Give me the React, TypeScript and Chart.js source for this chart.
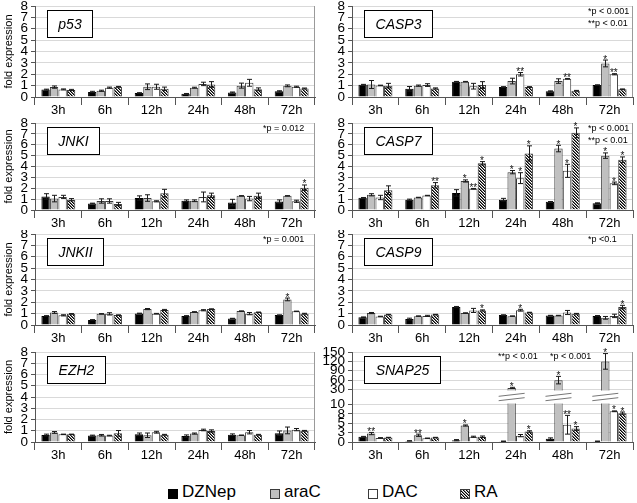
import React, { useEffect, useRef } from "react";
import { Chart, registerables } from "chart.js";
Chart.register(...registerables);

const FONT = "'Liberation Sans', Arial, Helvetica, sans-serif";

// ---------- data ----------
const timepoints = ["3h", "6h", "12h", "24h", "48h", "72h"];
const seriesNames = ["DZNep", "araC", "DAC", "RA"];
const linearTicks = [0, 1, 2, 3, 4, 5, 6, 7, 8];
const snapTicks = [0, 2.5, 5, 7.5, 10, 30, 60, 90, 120, 150];
const noSig = [["", "", "", "", "", ""], ["", "", "", "", "", ""], ["", "", "", "", "", ""], ["", "", "", "", "", ""]];

// rows: DZNep, araC, DAC, RA ; columns: timepoints
const p53Mean = [
  [0.65, 0.45, 0.35, 0.28, 0.4, 0.5],
  [0.87, 0.55, 0.9, 0.82, 1.0, 0.98],
  [0.67, 0.82, 0.9, 1.15, 1.25, 0.9],
  [0.62, 0.9, 0.72, 1.1, 0.68, 0.75],
];
const p53Err = [
  [0.04, 0.05, 0.03, 0.03, 0.04, 0.05],
  [0.1, 0.05, 0.25, 0.04, 0.22, 0.08],
  [0.04, 0.05, 0.22, 0.15, 0.3, 0.05],
  [0.05, 0.03, 0.15, 0.25, 0.12, 0.04],
];

const casp3Mean = [
  [1.08, 0.72, 1.35, 0.88, 0.5, 1.05],
  [1.1, 1.0, 1.35, 1.4, 1.4, 2.95],
  [1.02, 1.05, 0.95, 2.0, 1.6, 2.0],
  [1.0, 0.75, 1.05, 0.88, 0.55, 0.68],
];
const casp3Err = [
  [0.03, 0.2, 0.02, 0.03, 0.04, 0.02],
  [0.35, 0.05, 0.02, 0.25, 0.2, 0.3],
  [0.02, 0.12, 0.25, 0.15, 0.03, 0.05],
  [0.2, 0.05, 0.3, 0.03, 0.03, 0.03],
];
const casp3Sig = [
  ["", "", "", "", "", ""],
  ["", "", "", "", "", "*"],
  ["", "", "", "**", "**", "**"],
  ["", "", "", "", "", ""],
];

const jnk1Mean = [
  [1.25, 0.6, 1.1, 0.85, 0.68, 0.78],
  [1.05, 0.83, 1.1, 0.85, 1.3, 1.3],
  [1.2, 0.83, 0.8, 1.2, 1.05, 0.8],
  [0.95, 0.55, 1.55, 1.35, 1.3, 2.05],
];
const jnk1Err = [
  [0.25, 0.03, 0.2, 0.08, 0.3, 0.15],
  [0.3, 0.2, 0.3, 0.08, 0.02, 0.02],
  [0.15, 0.2, 0.05, 0.45, 0.2, 0.1],
  [0.1, 0.15, 0.35, 0.2, 0.25, 0.25],
];
const jnk1Sig = [
  ["", "", "", "", "", ""],
  ["", "", "", "", "", ""],
  ["", "", "", "", "", ""],
  ["", "", "", "", "", "*"],
];

const casp7Mean = [
  [1.12, 0.95, 1.57, 0.95, 0.75, 0.63],
  [1.4, 1.15, 2.67, 3.48, 5.65, 5.0],
  [1.15, 1.33, 1.95, 2.93, 3.6, 2.45],
  [1.82, 2.27, 4.3, 5.2, 7.1, 4.63],
];
const casp7Err = [
  [0.03, 0.05, 0.3, 0.12, 0.03, 0.03],
  [0.1, 0.02, 0.1, 0.15, 0.3, 0.25],
  [0.2, 0.02, 0.03, 0.5, 0.6, 0.12],
  [0.4, 0.25, 0.15, 0.7, 0.45, 0.25],
];
const casp7Sig = [
  ["", "", "", "", "", ""],
  ["", "", "*", "*", "*", "*"],
  ["", "", "**", "*", "*", "*"],
  ["", "**", "*", "*", "*", "*"],
];

const jnk2Mean = [
  [0.8, 0.45, 1.02, 0.8, 0.57, 0.87],
  [1.1, 0.98, 1.4, 1.15, 1.22, 2.25],
  [0.85, 0.98, 1.0, 1.3, 1.0, 1.2],
  [0.98, 0.87, 1.32, 1.4, 1.12, 1.0],
];
const jnk2Err = [
  [0.02, 0.02, 0.02, 0.02, 0.02, 0.02],
  [0.08, 0.02, 0.05, 0.02, 0.02, 0.12],
  [0.05, 0.1, 0.02, 0.05, 0.1, 0.02],
  [0.02, 0.02, 0.05, 0.02, 0.02, 0.03],
];
const jnk2Sig = [
  ["", "", "", "", "", ""],
  ["", "", "", "", "", "*"],
  ["", "", "", "", "", ""],
  ["", "", "", "", "", ""],
];

const casp9Mean = [
  [0.68, 0.52, 1.58, 0.87, 0.83, 0.8],
  [1.05, 0.78, 1.05, 0.78, 0.83, 0.63],
  [0.75, 0.8, 1.28, 1.3, 1.1, 0.8],
  [0.92, 0.92, 1.28, 1.1, 1.0, 1.58],
];
const casp9Err = [
  [0.03, 0.08, 0.05, 0.03, 0.02, 0.03],
  [0.05, 0.02, 0.02, 0.02, 0.02, 0.12],
  [0.02, 0.05, 0.18, 0.08, 0.18, 0.15],
  [0.02, 0.02, 0.05, 0.02, 0.02, 0.15],
];
const casp9Sig = [
  ["", "", "", "", "", ""],
  ["", "", "", "", "", ""],
  ["", "", "", "*", "", ""],
  ["", "", "*", "", "", "*"],
];

const ezh2Mean = [
  [0.62, 0.57, 0.68, 0.53, 0.65, 0.78],
  [0.85, 0.6, 0.6, 0.75, 0.6, 1.03],
  [0.68, 0.57, 0.87, 1.07, 0.87, 1.1],
  [0.68, 0.77, 0.65, 0.98, 0.65, 1.0],
];
const ezh2Err = [
  [0.08, 0.04, 0.12, 0.1, 0.07, 0.2],
  [0.08, 0.07, 0.2, 0.05, 0.02, 0.3],
  [0.02, 0.03, 0.08, 0.07, 0.15, 0.1],
  [0.02, 0.25, 0.03, 0.1, 0.03, 0.03],
];

const snap25Mean = [
  [1.4, 0.3, 0.5, 0.2, 0.9, 0.2],
  [2.25, 1.8, 4.4, 35, 60, 120],
  [1.1, 1.0, 1.4, 1.7, 4.6, 8.2],
  [1.2, 1.2, 1.4, 2.8, 3.6, 7.7],
];
const snap25Err = [
  [0.1, 0.05, 0.15, 0.05, 0.2, 0.05],
  [0.3, 0.3, 0.15, 2, 12, 25],
  [0.05, 0.05, 0.15, 0.3, 2.5, 0.1],
  [0.05, 0.05, 0.2, 0.2, 0.5, 0.3],
];
const snap25Sig = [
  ["", "", "", "", "", ""],
  ["**", "**", "*", "*", "*", "*"],
  ["", "", "", "", "**", "*"],
  ["", "", "", "*", "*", "*"],
];

// ---------- scale helpers ----------
const identity = (v: number) => v;
// broken axis: 0..10 linear, gap, 30..150 compressed
const brokenTf = (v: number) =>
  v <= 10 ? v : v <= 30 ? 10 + ((v - 10) * 4) / 20 : 14 + ((v - 30) * 10) / 120;

const panels = [
  { gene: "p53", mean: p53Mean, err: p53Err, sig: noSig, notes: [] as string[], col: 0, row: 0 },
  { gene: "CASP3", mean: casp3Mean, err: casp3Err, sig: casp3Sig, notes: ["*p < 0.001", "**p < 0.01"], col: 1, row: 0 },
  { gene: "JNKI", mean: jnk1Mean, err: jnk1Err, sig: jnk1Sig, notes: ["*p = 0.012"], col: 0, row: 1 },
  { gene: "CASP7", mean: casp7Mean, err: casp7Err, sig: casp7Sig, notes: ["*p < 0.001", "**p < 0.01"], col: 1, row: 1 },
  { gene: "JNKII", mean: jnk2Mean, err: jnk2Err, sig: jnk2Sig, notes: ["*p = 0.001"], col: 0, row: 2 },
  { gene: "CASP9", mean: casp9Mean, err: casp9Err, sig: casp9Sig, notes: ["*p <0.1"], col: 1, row: 2 },
  { gene: "EZH2", mean: ezh2Mean, err: ezh2Err, sig: noSig, notes: [], col: 0, row: 3 },
  { gene: "SNAP25", mean: snap25Mean, err: snap25Err, sig: snap25Sig, notes: ["**p < 0.01", "*p < 0.001"], col: 1, row: 3, broken: true },
];

// ---------- layout ----------
const rowsLayout = [
  { y: 0, h: 118, top: 6, bottom: 97 },
  { y: 118, h: 112, top: 123, bottom: 210 },
  { y: 230, h: 117, top: 234, bottom: 325 },
  { y: 347, h: 123, top: 352, bottom: 442 },
];
const colsLayout = [
  { x: 0, w: 318, left: 35, right: 315, noteOff: 52 },
  { x: 318, w: 319, left: 352, right: 633, noteOff: 45 },
];
const legendSquareX = [168, 270, 368, 460];

const fills = ["#000000", "#c0c0c0", "#ffffff"];
const borders = ["#000000", "#3a3a3a", "#3a3a3a", "#3a3a3a"];

function makeHatch(ctx: CanvasRenderingContext2D) {
  const c = document.createElement("canvas");
  c.width = 3;
  c.height = 3;
  const g = c.getContext("2d")!;
  g.fillStyle = "#ffffff";
  g.fillRect(0, 0, 3, 3);
  for (let i = 0; i < 3; i++) {
    g.fillStyle = "#000000";
    g.fillRect(i, i, 1, 1);
    g.fillStyle = "#6e6e6e";
    g.fillRect((i + 1) % 3, i, 1, 1);
  }
  return ctx.createPattern(c, "repeat")!;
}

const overlayPlugin = {
  id: "overlay",
  afterDatasetsDraw(chart: any, _args: any, opts: any) {
    const p = opts.panel;
    const tf = p.broken ? brokenTf : identity;
    const ctx: CanvasRenderingContext2D = chart.ctx;
    const ys = chart.scales.y;
    const area = chart.chartArea;
    ctx.save();
    // right border of the plot area
    ctx.strokeStyle = "#9a9a9a";
    ctx.lineWidth = 1;
    ctx.beginPath();
    ctx.moveTo(Math.round(area.right) - 0.5, area.top);
    ctx.lineTo(Math.round(area.right) - 0.5, area.bottom);
    ctx.stroke();
    // axis breaks
    if (p.broken) {
      p.mean.forEach((row: number[], i: number) => {
        const meta = chart.getDatasetMeta(i);
        row.forEach((v: number, j: number) => {
          if (v <= 30) return;
          const el = meta.data[j];
          const x = el.x;
          const yHi = ys.getPixelForValue(tf(30));
          const yLo = ys.getPixelForValue(tf(10));
          ctx.fillStyle = "#fff";
          ctx.fillRect(x - el.width / 2 - 1, yHi + 1, el.width + 2, yLo - yHi - 2);
          const mid = (yHi + yLo) / 2;
          ctx.strokeStyle = "#777";
          ctx.lineWidth = 1;
          [-2.2, 2.2].forEach((k) => {
            ctx.beginPath();
            ctx.moveTo(x - 13, mid + k + 1.5);
            ctx.lineTo(x + 13, mid + k - 1.5);
            ctx.stroke();
          });
        });
      });
    }
    // error bars + stars
    p.mean.forEach((row: number[], i: number) => {
      const meta = chart.getDatasetMeta(i);
      row.forEach((v: number, j: number) => {
        const e = p.err[i][j];
        const el = meta.data[j];
        const x = Math.round(el.x) + 0.5;
        const yTop = ys.getPixelForValue(tf(v + e));
        const yBot = ys.getPixelForValue(tf(Math.max(0, v - e)));
        if (e > 0) {
          ctx.strokeStyle = "#1a1a1a";
          ctx.lineWidth = 1;
          ctx.beginPath();
          ctx.moveTo(x, yTop);
          ctx.lineTo(x, yBot);
          ctx.moveTo(x - 2.5, yTop);
          ctx.lineTo(x + 2.5, yTop);
          ctx.moveTo(x - 2.5, yBot);
          ctx.lineTo(x + 2.5, yBot);
          ctx.stroke();
        }
        const s = p.sig[i][j];
        if (s) {
          ctx.fillStyle = "#111";
          ctx.font = `10px ${FONT}`;
          ctx.textAlign = "center";
          ctx.textBaseline = "alphabetic";
          ctx.fillText(s, el.x, yTop + 2.5);
        }
      });
    });
    // gene name box
    ctx.font = `italic 14px ${FONT}`;
    const tw = ctx.measureText(p.gene).width;
    const bx = Math.round(area.left + 12) + 0.5;
    const by = Math.round(area.top + 4) + 0.5;
    const bw = Math.round(tw + 22);
    const bh = 27;
    ctx.fillStyle = "#fff";
    ctx.fillRect(bx, by, bw, bh);
    ctx.strokeStyle = "#000";
    ctx.lineWidth = 1;
    ctx.strokeRect(bx, by, bw, bh);
    ctx.fillStyle = "#000";
    ctx.textAlign = "center";
    ctx.textBaseline = "middle";
    ctx.fillText(p.gene, bx + bw / 2, by + bh / 2 + 1);
    // p-value notes
    ctx.font = `9px ${FONT}`;
    ctx.textAlign = "left";
    ctx.textBaseline = "middle";
    ctx.fillStyle = "#000";
    if (p.broken) {
      ctx.fillText(p.notes[0], area.left + 146, area.top + 5);
      ctx.fillText(p.notes[1], area.left + 198, area.top + 5);
    } else {
      p.notes.forEach((n: string, k: number) => {
        ctx.fillText(n, area.right - opts.noteOff, area.top + 6 + k * 12);
      });
    }
    ctx.restore();
  },
};

function Panel({ p }: { p: any }) {
  const ref = useRef<HTMLCanvasElement>(null);
  const rl = rowsLayout[p.row];
  const cl = colsLayout[p.col];
  useEffect(() => {
    const canvas = ref.current!;
    const ctx = canvas.getContext("2d")!;
    const hatch = makeHatch(ctx);
    const tf = p.broken ? brokenTf : identity;
    const tickVals = p.broken ? snapTicks.map(brokenTf) : linearTicks;
    const tickLabels = p.broken ? snapTicks.map((v) => String(Math.round(v))) : linearTicks.map(String);
    const yAxisW = cl.left - cl.x;
    const rightPad = cl.x + cl.w - cl.right;
    const topPad = rl.top - rl.y;
    const xAxisH = rl.y + rl.h - rl.bottom;
    const chart = new Chart(ctx, {
      type: "bar",
      data: {
        labels: timepoints,
        datasets: seriesNames.map((name, i) => ({
          label: name,
          data: p.mean[i].map(tf),
          backgroundColor: i === 3 ? hatch : fills[i],
          borderColor: borders[i],
          borderWidth: 1,
          categoryPercentage: 0.73,
          barPercentage: 0.98,
        })),
      },
      options: {
        animation: false,
        responsive: false,
        events: [],
        layout: { padding: { left: 0, right: rightPad, top: topPad, bottom: 0 } },
        plugins: {
          legend: { display: false },
          tooltip: { enabled: false },
          overlay: { panel: p, noteOff: cl.noteOff },
        } as any,
        scales: {
          x: {
            grid: {
              display: true,
              drawOnChartArea: false,
              drawTicks: true,
              tickLength: 8,
              offset: true,
              tickColor: "#555",
            },
            border: { display: true, color: "#555", width: 1 },
            ticks: {
              font: { family: FONT, size: 13 },
              color: "#000",
              padding: -2,
              maxRotation: 0,
              autoSkip: false,
            },
            afterFit: (s: any) => {
              s.height = xAxisH;
              s.paddingLeft = 0;
              s.paddingRight = 0;
            },
          },
          y: {
            min: 0,
            max: p.broken ? 24 : 8,
            afterBuildTicks: (s: any) => {
              s.ticks = tickVals.map((v) => ({ value: v }));
            },
            grid: { color: "#d9d9d9", tickColor: "#555", tickLength: 4, drawTicks: true },
            border: { display: true, color: "#555", width: 1 },
            ticks: {
              font: { family: FONT, size: 13.5 },
              color: "#000",
              padding: 3,
              autoSkip: false,
              callback: (_v: any, idx: number) => tickLabels[idx],
            },
            title: {
              display: p.col === 0,
              text: "fold expression",
              font: { family: FONT, size: 11 },
              color: "#000",
              padding: { top: 2, bottom: 0 },
            },
            afterFit: (s: any) => {
              s.width = yAxisW;
              s.paddingTop = 0;
              s.paddingBottom = 0;
            },
          },
        },
      },
      plugins: [overlayPlugin as any],
    } as any);
    return () => chart.destroy();
  }, []);
  return (
    <canvas
      ref={ref}
      width={cl.w}
      height={rl.h}
      style={{ position: "absolute", left: cl.x, top: rl.y, width: cl.w, height: rl.h }}
    />
  );
}

const swatchStyles: React.CSSProperties[] = [
  { background: "#000", border: "1px solid #000" },
  { background: "#c0c0c0", border: "1px solid #3a3a3a" },
  { background: "#fff", border: "1px solid #3a3a3a" },
  {
    background: "repeating-linear-gradient(45deg, #000 0px, #000 1px, #888 1px, #888 1.6px, #fff 1.6px, #fff 2.2px)",
    border: "1px solid #3a3a3a",
  },
];

export default function App() {
  return (
    <div
      style={{
        position: "absolute",
        left: 0,
        top: 0,
        width: 637,
        height: 503,
        background: "#fff",
        overflow: "hidden",
        fontFamily: FONT,
      }}
    >
      {panels.map((p) => (
        <Panel key={p.gene} p={p} />
      ))}
      {seriesNames.map((name, i) => (
        <React.Fragment key={name}>
          <div
            style={{
              position: "absolute",
              left: legendSquareX[i],
              top: 489,
              width: 8,
              height: 8,
              boxSizing: "content-box",
              ...swatchStyles[i],
            }}
          />
          <div
            style={{
              position: "absolute",
              left: legendSquareX[i] + 14,
              top: 483,
              fontSize: 17,
              lineHeight: "17px",
              color: "#000",
              whiteSpace: "nowrap",
            }}
          >
            {name}
          </div>
        </React.Fragment>
      ))}
    </div>
  );
}
